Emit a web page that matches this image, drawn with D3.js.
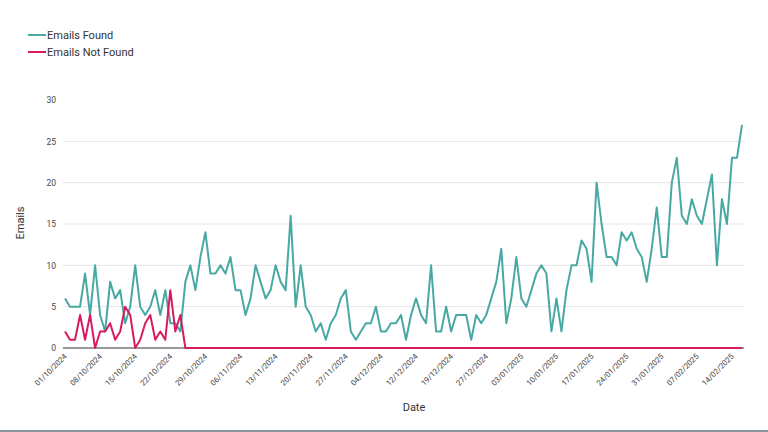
<!DOCTYPE html>
<html>
<head>
<meta charset="utf-8">
<script src="https://cdn.jsdelivr.net/npm/d3@7"></script>
<style>
  body { margin: 0; background: #fff; }
  svg { display: block; font-family: Roboto, "Noto Sans", sans-serif; }
</style>
</head>
<body>
<div id="chart"></div>
<script>
// DATA - one entry per day that has a record
const dates = [
  "01/10/2024","02/10/2024","03/10/2024","04/10/2024","05/10/2024","06/10/2024","07/10/2024",
  "08/10/2024","09/10/2024","10/10/2024","11/10/2024","12/10/2024","13/10/2024","14/10/2024",
  "15/10/2024","16/10/2024","17/10/2024","18/10/2024","19/10/2024","20/10/2024","21/10/2024",
  "22/10/2024","23/10/2024","24/10/2024","25/10/2024","26/10/2024","27/10/2024","28/10/2024",
  "29/10/2024","30/10/2024","31/10/2024","01/11/2024","03/11/2024","04/11/2024","05/11/2024",
  "06/11/2024","07/11/2024","08/11/2024","09/11/2024","10/11/2024","11/11/2024","12/11/2024",
  "13/11/2024","14/11/2024","15/11/2024","16/11/2024","17/11/2024","18/11/2024","19/11/2024",
  "20/11/2024","21/11/2024","22/11/2024","23/11/2024","24/11/2024","25/11/2024","26/11/2024",
  "27/11/2024","28/11/2024","29/11/2024","30/11/2024","01/12/2024","02/12/2024","03/12/2024",
  "04/12/2024","05/12/2024","06/12/2024","07/12/2024","09/12/2024","10/12/2024","11/12/2024",
  "12/12/2024","13/12/2024","14/12/2024","15/12/2024","16/12/2024","17/12/2024","18/12/2024",
  "19/12/2024","20/12/2024","21/12/2024","22/12/2024","23/12/2024","24/12/2024","26/12/2024",
  "27/12/2024","28/12/2024","29/12/2024","30/12/2024","31/12/2024","01/01/2025","02/01/2025",
  "03/01/2025","04/01/2025","05/01/2025","06/01/2025","07/01/2025","08/01/2025","09/01/2025",
  "10/01/2025","11/01/2025","12/01/2025","13/01/2025","14/01/2025","15/01/2025","16/01/2025",
  "17/01/2025","18/01/2025","19/01/2025","20/01/2025","21/01/2025","22/01/2025","23/01/2025",
  "24/01/2025","25/01/2025","26/01/2025","27/01/2025","28/01/2025","29/01/2025","30/01/2025",
  "31/01/2025","01/02/2025","02/02/2025","03/02/2025","04/02/2025","05/02/2025","06/02/2025",
  "07/02/2025","08/02/2025","09/02/2025","10/02/2025","11/02/2025","12/02/2025","13/02/2025",
  "14/02/2025","15/02/2025","16/02/2025"
];

const emailsFound = [
  6,5,5,5,9,4,10,4,2,8,6,7,3,5,10,5,4,5,7,4,7,3,3,2,8,10,7,11,14,9,
  9,10,9,11,7,7,4,6,10,8,6,7,10,8,7,16,5,10,5,4,2,3,1,3,4,6,7,2,1,2,
  3,3,5,2,2,3,3,4,1,4,6,4,3,10,2,2,5,2,4,4,4,1,4,3,4,6,8,12,3,6,
  11,6,5,7,9,10,9,2,6,2,7,10,10,13,12,8,20,15,11,11,10,14,13,14,12,11,8,12,17,11,
  11,20,23,16,15,18,16,15,18,21,10,18,15,23,23,27
];

const emailsNotFound = [
  2,1,1,4,1,4,0,2,2,3,1,2,5,4,0,1,3,4,1,2,1,7,2,4,0,0,0,0,0,0,
  0,0,0,0,0,0,0,0,0,0,0,0,0,0,0,0,0,0,0,0,0,0,0,0,0,0,0,0,0,0,
  0,0,0,0,0,0,0,0,0,0,0,0,0,0,0,0,0,0,0,0,0,0,0,0,0,0,0,0,0,0,
  0,0,0,0,0,0,0,0,0,0,0,0,0,0,0,0,0,0,0,0,0,0,0,0,0,0,0,0,0,0,
  0,0,0,0,0,0,0,0,0,0,0,0,0,0,0,0
];

const seriesNames = ["Emails Found", "Emails Not Found"];
const yTicks = [0, 5, 10, 15, 20, 25, 30];
const tickDates = dates.filter((d, i) => i % 7 === 0);

// SIZES
const width = 768, height = 432;
const margin = {top: 100, right: 26, bottom: 84, left: 65};
const colors = ["#48a9a3", "#d81b60"];

const svg = d3.select("#chart").append("svg")
  .attr("width", width)
  .attr("height", height);

// SCALES
const x = d3.scalePoint()
  .domain(dates)
  .range([margin.left, width - margin.right]);

const y = d3.scaleLinear()
  .domain([0, 30])
  .range([height - margin.bottom, margin.top]);

// gridlines (no line on top)
svg.append("g")
  .selectAll("line")
  .data(yTicks.filter(t => t > 0 && t < 30))
  .join("line")
  .attr("x1", margin.left - 2)
  .attr("x2", width - margin.right + 2)
  .attr("y1", d => y(d))
  .attr("y2", d => y(d))
  .attr("stroke", "#e6e6e6")
  .attr("stroke-width", 1);

// baseline
svg.append("line")
  .attr("x1", margin.left - 2)
  .attr("x2", width - margin.right + 2)
  .attr("y1", y(0))
  .attr("y2", y(0))
  .attr("stroke", "#333")
  .attr("stroke-width", 1);

// y axis labels
const yAxis = svg.append("g")
  .attr("transform", "translate(" + (margin.left - 9) + ",0)")
  .call(d3.axisLeft(y).tickValues(yTicks).tickSize(0).tickPadding(0));
yAxis.select(".domain").remove();
yAxis.selectAll("text")
  .attr("font-family", "Roboto, sans-serif")
  .attr("font-size", 8.5)
  .attr("fill", "#444");

// x axis labels
const xAxis = svg.append("g")
  .attr("transform", "translate(0," + (y(0) + 7) + ")")
  .call(d3.axisBottom(x).tickValues(tickDates).tickSize(0).tickPadding(0));
xAxis.select(".domain").remove();
xAxis.selectAll("text")
  .attr("font-family", "Roboto, sans-serif")
  .attr("font-size", 7.8)
  .attr("fill", "#444")
  .attr("text-anchor", "end")
  .attr("dy", "0.35em")
  .attr("transform", "rotate(-45)");

// LINES
const line = d3.line()
  .x((d, i) => x(dates[i]))
  .y(d => y(d));

[emailsFound, emailsNotFound].forEach((s, k) => {
  svg.append("path")
    .datum(s)
    .attr("fill", "none")
    .attr("stroke", colors[k])
    .attr("stroke-width", 2)
    .attr("stroke-linejoin", "round")
    .attr("d", line);
});

// axis titles
svg.append("text")
  .attr("x", 414)
  .attr("y", 411)
  .attr("text-anchor", "middle")
  .attr("font-size", 11)
  .attr("fill", "#333")
  .text("Date");

svg.append("text")
  .attr("transform", "translate(24,223) rotate(-90)")
  .attr("text-anchor", "middle")
  .attr("font-size", 11)
  .attr("fill", "#333")
  .text("Emails");

// LEGEND
const legend = svg.append("g")
  .selectAll("g")
  .data(seriesNames)
  .join("g")
  .attr("transform", (d, i) => "translate(28," + (35 + i * 17) + ")");
legend.append("line")
  .attr("x1", 0).attr("x2", 18)
  .attr("stroke", (d, i) => colors[i])
  .attr("stroke-width", 2);
legend.append("text")
  .attr("x", 19)
  .attr("dy", "0.35em")
  .attr("font-size", 11)
  .attr("fill", "#333")
  .text(d => d);

// bottom border line of the screenshot
svg.append("line")
  .attr("x1", 0).attr("x2", width)
  .attr("y1", 431).attr("y2", 431)
  .attr("stroke", "#8d939b")
  .attr("stroke-width", 2);
</script>
</body>
</html>
